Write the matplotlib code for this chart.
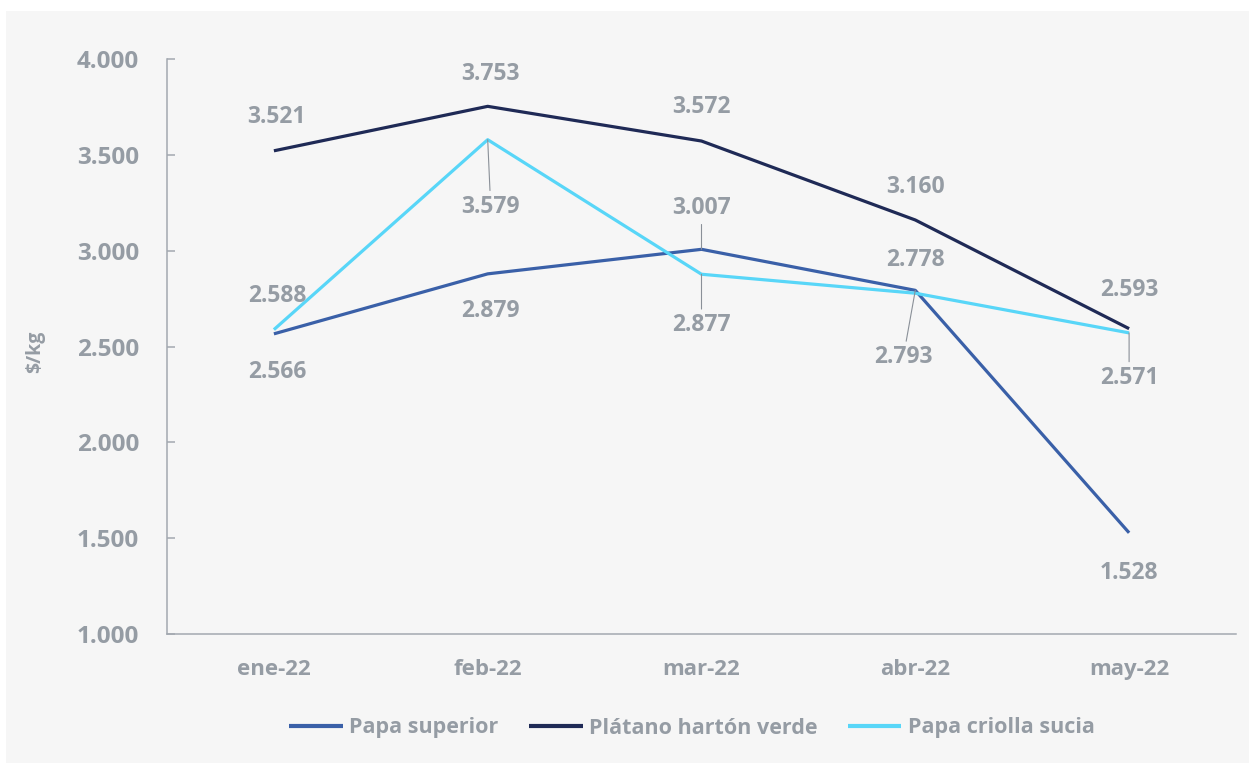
import matplotlib.pyplot as plt
from matplotlib.patches import Rectangle
from matplotlib.ticker import FuncFormatter

# Monthly prices ($/kg)
months = ['ene-22', 'feb-22', 'mar-22', 'abr-22', 'may-22']
papa_superior = [2566, 2879, 3007, 2793, 1528]
platano = [3521, 3753, 3572, 3160, 2593]
papa_criolla = [2588, 3579, 2877, 2778, 2571]

series = [
    ('Papa superior', papa_superior, '#3a60a8'),
    ('Plátano hartón verde', platano, '#1f2a56'),
    ('Papa criolla sucia', papa_criolla, '#58d6f8'),
]

# label offsets in pixels (dx, dy) and whether a leader line is drawn
label_style = {
    'Papa superior': [(3, -38, False), (3, -37, False), (0, 41, True), (-12, -67, True), (0, -40, False)],
    'Plátano hartón verde': [(3, 34, False), (3, 32, False), (0, 34, False), (0, 33, False), (0, 39, False)],
    'Papa criolla sucia': [(3, 34, False), (3, -67, True), (0, -51, True), (0, 33, False), (0, -45, True)],
}

txt = '#959ca4'
plt.rcParams['font.family'] = ['Open Sans', 'DejaVu Sans']
plt.rcParams['font.weight'] = 'bold'

fig = plt.figure(figsize=(12.49, 7.72), dpi=100)
fig.patch.set_facecolor('white')
fig.patches.append(Rectangle((6 / 1249, 9 / 772), 1, 752 / 772, transform=fig.transFigure,
                             facecolor='#f6f6f6', edgecolor='none', zorder=-10))

ax = fig.add_axes([167 / 1249, 138 / 772, 1069 / 1249, 575 / 772])
ax.set_facecolor('none')

x = range(len(months))
for name, vals, col in series:
    ax.plot(x, vals, color=col, lw=2.3, label=name, solid_capstyle='butt')
    for i, v in enumerate(vals):
        dx, dy, leader = label_style[name][i]
        arrow = dict(arrowstyle='-', color='#8a9098', lw=0.8, shrinkA=1, shrinkB=0) if leader else None
        ax.annotate(f'{v/1000:.3f}', xy=(i, v), xytext=(dx, dy), textcoords='offset pixels',
                    ha='center', va='center', fontsize=16.5, color=txt, fontweight='bold',
                    arrowprops=arrow)

ax.set_xlim(-0.5, len(months) - 0.5)
ax.set_ylim(1000, 4000)
ax.set_yticks([1000, 1500, 2000, 2500, 3000, 3500, 4000])
ax.yaxis.set_major_formatter(FuncFormatter(lambda v, p: f'{v/1000:.3f}'))
ax.set_xticks(list(x))
ax.set_xticklabels(months)

for s in ['top', 'right']:
    ax.spines[s].set_visible(False)
for s in ['left', 'bottom']:
    ax.spines[s].set_color('#a3a9b0')
    ax.spines[s].set_linewidth(1.1)

ax.tick_params(axis='y', direction='in', length=6, width=1.1, color='#a3a9b0',
               labelsize=17.5, labelcolor=txt, pad=20)
ax.tick_params(axis='x', length=0, labelsize=16, labelcolor=txt, pad=18)
for lab in ax.get_xticklabels() + ax.get_yticklabels():
    lab.set_fontweight('bold')

fig.text(35 / 1249, 1 - 352 / 772, '$/kg', rotation=90, ha='center', va='center',
         fontsize=14, color=txt, fontweight='bold')

leg = fig.legend(loc='center', bbox_to_anchor=(0.554, 1 - 728 / 772), ncol=3, frameon=False,
                 fontsize=15.5, handlelength=2.5, handletextpad=0.3, columnspacing=1.4)
for t in leg.get_texts():
    t.set_color(txt)
    t.set_fontweight('bold')
for h in leg.get_lines():
    h.set_linewidth(3)

fig.savefig('out.png', dpi=100)
